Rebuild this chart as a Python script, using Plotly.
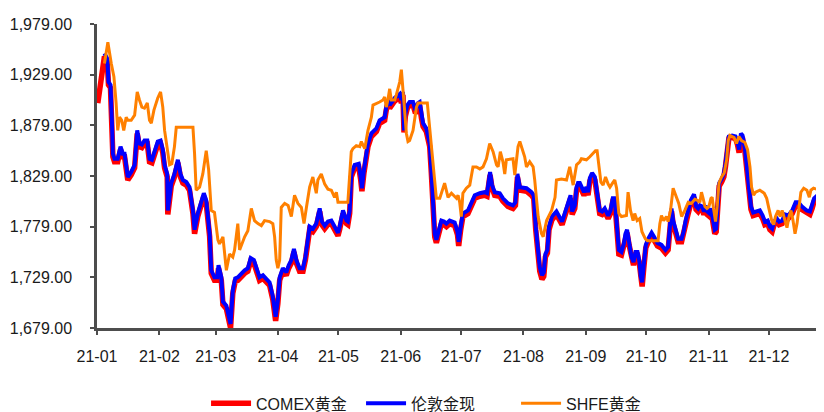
import pandas as pd
import plotly.graph_objects as go

# Days after 2021-01-01 and price levels
comex_days = [0.4, 2.0, 3.7, 5.1, 5.7, 6.7, 7.4, 7.9, 8.7, 10.3, 11.7, 12.8, 13.7, 14.5, 15.3, 17.0, 18.7, 20.0, 21.1, 22.3,
              23.6, 25.0, 26.1, 27.3, 28.6, 30.2, 31.6, 32.7, 33.6, 34.9, 35.2, 36.9, 38.5, 40.2, 41.5, 42.7, 44.4, 46.0, 47.7, 48.5,
              50.1, 51.8, 53.1, 54.3, 56.0, 56.8, 58.4, 59.8, 60.4, 61.8, 62.6, 64.3, 65.4, 66.4, 67.5, 68.7, 70.0, 71.7, 73.4, 75.0,
              76.4, 78.0, 79.2, 80.8, 82.5, 84.2, 85.8, 87.4, 88.8, 89.9, 90.8, 92.4, 94.1, 95.3, 96.6, 97.9, 99.1, 100.7, 102.4, 103.6,
              104.9, 105.7, 107.3, 109.0, 110.7, 111.8, 113.2, 114.8, 116.5, 118.1, 119.8, 120.6, 122.3, 124.0, 124.7, 125.6, 126.4, 128.1, 130.1, 131.1,
              131.7, 132.7, 133.9, 134.7, 136.4, 138.9, 140.5, 143.0, 143.8, 144.6, 145.5, 148.0, 150.5, 151.3, 152.1, 152.6, 153.3, 154.3, 155.4, 157.1,
              158.3, 159.6, 160.4, 161.3, 162.1, 163.7, 165.4, 166.2, 167.0, 167.9, 168.7, 169.9, 171.2, 172.5, 173.7, 175.3, 177.8, 179.2, 179.8, 180.8,
              181.9, 184.4, 186.1, 187.8, 190.3, 192.7, 193.9, 194.7, 195.4, 196.4, 197.7, 200.2, 201.8, 204.3, 206.8, 208.0, 209.0, 210.2, 213.5, 216.0,
              217.1, 218.1, 219.3, 220.1, 221.2, 222.1, 222.9, 223.9, 224.7, 226.2, 228.4, 230.0, 231.2, 232.5, 234.5, 235.4, 236.2, 237.5, 238.4, 239.1,
              240.0, 240.8, 242.1, 243.3, 244.1, 245.0, 246.1, 247.5, 248.3, 249.1, 249.9, 251.1, 252.4, 254.1, 255.3, 256.4, 257.3, 257.9, 258.7, 259.4,
              260.7, 261.9, 262.7, 263.5, 264.5, 265.7, 266.7, 267.7, 268.7, 269.7, 270.3, 271.0, 271.8, 272.8, 274.0, 275.7, 276.9, 278.6, 280.6, 282.6,
              283.9, 284.9, 285.6, 286.4, 287.6, 288.9, 290.6, 291.6, 292.6, 293.9, 295.2, 296.8, 297.8, 298.8, 299.7, 300.8, 301.7, 302.5, 303.3, 304.5,
              305.3, 306.1, 307.1, 307.8, 308.5, 309.3, 310.5, 311.6, 312.4, 313.3, 314.1, 315.7, 317.4, 318.4, 319.2, 320.1, 320.9, 322.1, 323.1, 324.1,
              325.1, 326.2, 327.9, 329.5, 330.9, 332.0, 333.4, 334.5, 335.6, 336.6, 338.0, 339.1, 340.6, 342.0, 343.6, 345.6, 347.3, 348.6, 350.3, 352.8,
              354.4, 355.5, 356.5, 358.2, 359.9, 361.4]
comex_vals = [1901, 1924, 1947, 1942, 1919, 1916, 1881, 1848, 1843, 1843, 1855, 1848, 1848, 1832, 1825, 1830, 1837, 1871, 1858, 1857,
              1861, 1861, 1843, 1842, 1850, 1860, 1861, 1852, 1837, 1828, 1791, 1819, 1828, 1842, 1828, 1822, 1820, 1815, 1792, 1772,
              1789, 1802, 1809, 1802, 1769, 1733, 1726, 1726, 1738, 1726, 1702, 1698, 1689, 1679, 1713, 1725, 1726, 1730, 1733, 1735,
              1745, 1743, 1736, 1726, 1728, 1725, 1721, 1707, 1686, 1703, 1726, 1735, 1731, 1738, 1743, 1754, 1743, 1735, 1735, 1746,
              1769, 1776, 1774, 1779, 1794, 1781, 1777, 1781, 1782, 1777, 1770, 1776, 1792, 1782, 1781, 1792, 1828, 1837, 1838, 1825,
              1814, 1832, 1848, 1858, 1868, 1873, 1881, 1884, 1894, 1901, 1896, 1903, 1907, 1901, 1909, 1872, 1888, 1896, 1899, 1899,
              1891, 1898, 1899, 1886, 1878, 1873, 1858, 1832, 1796, 1769, 1763, 1773, 1782, 1781, 1779, 1782, 1780, 1771, 1760, 1776,
              1789, 1792, 1800, 1807, 1809, 1810, 1809, 1825, 1830, 1817, 1810, 1809, 1804, 1799, 1797, 1800, 1828, 1815, 1814, 1810,
              1807, 1776, 1746, 1735, 1727, 1730, 1749, 1753, 1776, 1786, 1791, 1786, 1781, 1789, 1800, 1807, 1791, 1797, 1815, 1819,
              1819, 1815, 1810, 1815, 1810, 1824, 1829, 1825, 1815, 1802, 1792, 1791, 1794, 1787, 1792, 1804, 1804, 1791, 1766, 1752,
              1751, 1759, 1769, 1773, 1761, 1746, 1741, 1751, 1751, 1741, 1726, 1720, 1738, 1758, 1764, 1770, 1766, 1760, 1758, 1753,
              1756, 1777, 1794, 1782, 1773, 1764, 1764, 1771, 1782, 1792, 1802, 1808, 1796, 1794, 1797, 1796, 1791, 1797, 1791, 1789,
              1794, 1784, 1772, 1774, 1802, 1819, 1823, 1828, 1838, 1855, 1866, 1867, 1866, 1860, 1852, 1868, 1866, 1853, 1835, 1814,
              1796, 1790, 1791, 1792, 1787, 1781, 1782, 1776, 1774, 1781, 1784, 1781, 1782, 1788, 1787, 1792, 1800, 1800, 1796, 1792,
              1791, 1797, 1804, 1807, 1810, 1809]

london_days = comex_days[2:]
london_vals = [1950, 1945, 1922, 1919, 1884, 1851, 1846, 1846, 1858, 1851, 1851, 1835, 1828, 1833, 1840, 1874, 1861, 1860,
               1864, 1864, 1846, 1845, 1853, 1863, 1864, 1855, 1840, 1831, 1795, 1822, 1831, 1845, 1831, 1825, 1823, 1818, 1795, 1776,
               1792, 1805, 1812, 1805, 1772, 1736, 1729, 1729, 1741, 1729, 1705, 1701, 1693, 1683, 1716, 1728, 1729, 1733, 1736, 1738,
               1748, 1746, 1739, 1729, 1731, 1728, 1724, 1710, 1690, 1706, 1729, 1738, 1734, 1741, 1746, 1757, 1746, 1738, 1738, 1749,
               1772, 1779, 1777, 1782, 1797, 1784, 1780, 1784, 1785, 1780, 1773, 1779, 1795, 1785, 1784, 1795, 1831, 1840, 1841, 1828,
               1817, 1835, 1851, 1861, 1871, 1876, 1884, 1887, 1897, 1904, 1899, 1906, 1910, 1904, 1912, 1874, 1891, 1899, 1902, 1902,
               1894, 1901, 1902, 1889, 1881, 1876, 1861, 1835, 1799, 1772, 1766, 1776, 1785, 1784, 1782, 1785, 1783, 1774, 1764, 1779,
               1792, 1795, 1803, 1810, 1812, 1813, 1812, 1828, 1833, 1820, 1813, 1812, 1807, 1802, 1800, 1803, 1831, 1818, 1817, 1813,
               1810, 1779, 1749, 1739, 1731, 1734, 1752, 1756, 1779, 1789, 1794, 1789, 1784, 1792, 1803, 1810, 1794, 1800, 1818, 1822,
               1822, 1818, 1813, 1818, 1813, 1827, 1832, 1828, 1818, 1805, 1795, 1794, 1797, 1790, 1795, 1807, 1807, 1794, 1769, 1756,
               1754, 1762, 1772, 1776, 1764, 1749, 1744, 1754, 1754, 1744, 1730, 1724, 1741, 1761, 1767, 1773, 1769, 1763, 1761, 1756,
               1759, 1780, 1797, 1785, 1776, 1767, 1767, 1774, 1785, 1795, 1805, 1811, 1799, 1797, 1800, 1799, 1794, 1800, 1794, 1792,
               1797, 1787, 1776, 1777, 1805, 1822, 1826, 1831, 1841, 1858, 1868, 1869, 1868, 1863, 1855, 1871, 1869, 1856, 1838, 1817,
               1799, 1793, 1794, 1795, 1790, 1784, 1785, 1779, 1777, 1784, 1787, 1784, 1785, 1791, 1790, 1795, 1803, 1803, 1799, 1795,
               1794, 1800, 1807, 1810, 1813, 1812]

shfe_days = [3.7, 5.4, 7.1, 8.4, 9.5, 10.3, 11.2, 12.3, 13.3, 14.5, 15.3, 17.0, 18.7, 20.0, 21.1, 22.3, 23.6, 25.0, 26.1, 27.0,
             28.3, 30.2, 31.6, 32.7, 33.6, 34.9, 36.1, 37.2, 38.5, 39.4, 47.7, 48.5, 49.3, 51.0, 52.6, 54.3, 55.5, 56.8, 58.4, 60.1,
             60.9, 62.6, 63.4, 64.3, 65.9, 67.5, 68.4, 70.0, 70.9, 73.4, 75.0, 76.7, 78.3, 80.0, 81.7, 83.3, 85.8, 87.4, 88.3, 89.1,
             89.9, 90.8, 91.6, 93.3, 95.0, 96.6, 98.2, 99.9, 101.6, 102.9, 104.1, 105.7, 107.3, 109.0, 109.8, 111.5, 113.2, 114.8, 116.5, 118.1,
             119.0, 119.8, 124.7, 125.6, 126.4, 127.2, 128.9, 130.6, 131.4, 133.1, 134.7, 136.4, 137.2, 140.5, 142.2, 143.0, 143.8, 144.6, 145.5, 146.3,
             148.0, 148.8, 150.5, 151.3, 152.1, 152.9, 153.8, 154.6, 155.4, 157.1, 158.8, 159.6, 164.2, 165.4, 166.2, 167.0, 167.9, 168.7, 170.4, 172.8,
             174.5, 176.2, 178.7, 179.5, 180.3, 181.1, 181.9, 183.6, 185.3, 186.9, 188.6, 190.3, 191.9, 193.6, 195.2, 196.9, 198.6, 199.4, 200.5, 201.8,
             202.7, 203.5, 206.8, 207.7, 209.3, 210.2, 212.6, 213.5, 215.1, 216.8, 217.6, 219.3, 221.0, 221.8, 223.5, 226.0, 227.7, 228.4, 230.9, 233.4,
             235.0, 236.7, 238.4, 240.0, 240.8, 243.3, 245.0, 246.6, 247.8, 248.6, 249.5, 250.5, 251.6, 252.8, 254.1, 255.0, 256.6, 257.4, 258.3, 259.4,
             260.7, 263.2, 264.0, 265.2, 266.5, 267.3, 268.5, 269.8, 270.9, 272.6, 273.6, 278.9, 279.8, 280.6, 281.7, 283.1, 283.9, 285.1, 286.4, 287.7,
             289.2, 290.6, 292.2, 293.9, 295.5, 297.2, 298.5, 299.7, 300.5, 301.3, 302.2, 303.2, 304.2, 305.2, 305.8, 306.5, 307.5, 308.3, 309.2, 310.5,
             311.8, 313.0, 313.8, 314.6, 316.7, 317.9, 319.1, 320.4, 322.1, 323.4, 324.6, 325.4, 326.4, 327.4, 329.5, 331.7, 332.9, 334.0, 335.4, 336.4,
             337.3, 338.6, 339.6, 340.6, 342.0, 343.0, 344.0, 345.0, 346.0, 347.0, 348.0, 348.9, 349.9, 351.3, 352.9, 354.1, 354.9, 356.2, 357.7, 359.4,
             361.4]
shfe_vals = [1940, 1961, 1940, 1927, 1901, 1874, 1887, 1884, 1874, 1887, 1884, 1884, 1889, 1912, 1904, 1897, 1896, 1901, 1884, 1881,
             1894, 1906, 1912, 1897, 1874, 1858, 1840, 1841, 1858, 1877, 1877, 1851, 1815, 1818, 1831, 1854, 1835, 1795, 1793, 1766,
             1762, 1769, 1752, 1736, 1752, 1749, 1756, 1782, 1756, 1769, 1775, 1797, 1785, 1782, 1780, 1785, 1784, 1782, 1769, 1746,
             1738, 1746, 1798, 1802, 1800, 1789, 1810, 1802, 1798, 1782, 1798, 1818, 1828, 1812, 1825, 1831, 1821, 1816, 1815, 1808,
             1813, 1803, 1803, 1828, 1853, 1856, 1859, 1858, 1863, 1856, 1874, 1887, 1899, 1902, 1904, 1907, 1897, 1904, 1915, 1904,
             1904, 1909, 1922, 1934, 1917, 1894, 1871, 1863, 1864, 1874, 1897, 1901, 1901, 1874, 1861, 1841, 1818, 1807, 1807, 1822,
             1808, 1812, 1807, 1810, 1803, 1789, 1812, 1817, 1820, 1838, 1838, 1836, 1838, 1846, 1861, 1853, 1840, 1838, 1853, 1843,
             1831, 1845, 1846, 1830, 1858, 1863, 1848, 1838, 1843, 1838, 1825, 1789, 1772, 1769, 1785, 1795, 1808, 1825, 1826, 1825,
             1838, 1820, 1840, 1843, 1846, 1845, 1848, 1851, 1854, 1854, 1838, 1823, 1820, 1828, 1821, 1818, 1823, 1825, 1817, 1792,
             1789, 1790, 1813, 1795, 1785, 1792, 1785, 1787, 1774, 1767, 1765, 1765, 1782, 1790, 1785, 1789, 1784, 1795, 1817, 1810,
             1802, 1789, 1795, 1803, 1802, 1806, 1805, 1803, 1813, 1807, 1799, 1797, 1799, 1807, 1808, 1797, 1784, 1799, 1822, 1828,
             1832, 1845, 1864, 1869, 1867, 1861, 1868, 1864, 1862, 1855, 1838, 1818, 1810, 1813, 1815, 1812, 1807, 1797, 1785, 1781,
             1789, 1795, 1789, 1795, 1785, 1778, 1789, 1795, 1785, 1772, 1782, 1800, 1813, 1817, 1815, 1808, 1815, 1817, 1816, 1818,
             1822]

y_ticks = [1679, 1729, 1779, 1829, 1879, 1929, 1979]
series_names = ["COMEX黄金", "伦敦金现", "SHFE黄金"]

start = pd.Timestamp("2021-01-01")


def to_dates(days):
    return start + pd.to_timedelta(days, unit="D")


FONT = "Liberation Sans, Arial, Noto Sans CJK SC, sans-serif"

fig = go.Figure()
fig.add_trace(go.Scatter(x=to_dates(comex_days), y=comex_vals, mode="lines", name=series_names[0],
                         line=dict(color="#ff0000", width=5.5)))
fig.add_trace(go.Scatter(x=to_dates(london_days), y=london_vals, mode="lines", name=series_names[1],
                         line=dict(color="#0000ff", width=4)))
fig.add_trace(go.Scatter(x=to_dates(shfe_days), y=shfe_vals, mode="lines", name=series_names[2],
                         line=dict(color="#ff8000", width=3)))

fig.update_layout(
    width=824, height=412,
    margin=dict(l=89, r=8, t=16, b=92, autoexpand=False),
    paper_bgcolor="white", plot_bgcolor="white",
    font=dict(family=FONT, size=16, color="#1a1a1a"),
    showlegend=True,
    legend=dict(orientation="h", x=0.15, xanchor="left", y=-0.248, yanchor="middle",
                font=dict(size=16, color="#1a1a1a"), bgcolor="rgba(0,0,0,0)",
                itemwidth=40, entrywidth=100, entrywidthmode="pixels"),
)
fig.update_xaxes(
    type="date",
    range=[start, start + pd.Timedelta(days=361.4)],
    tickformat="%y-%m", dtick="M1", tick0="2021-01-01",
    showgrid=False, zeroline=False, automargin=False,
    showline=True, linecolor="#4d4d4d", linewidth=2.5,
    ticks="outside", ticklen=4, tickcolor="#4d4d4d", tickwidth=1.5,
    ticklabelstandoff=8,
)
fig.update_yaxes(
    range=[1679, 1979],
    tickvals=y_ticks, tickformat=",.2f",
    showgrid=False, zeroline=False, automargin=False,
    showline=True, linecolor="#4d4d4d", linewidth=2.5,
    ticks="outside", ticklen=4, tickcolor="#4d4d4d", tickwidth=1.5,
    ticklabelstandoff=15,
)

fig.write_html("out.html")
